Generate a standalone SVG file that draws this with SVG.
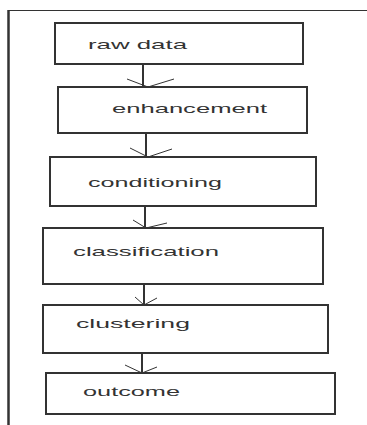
<svg xmlns="http://www.w3.org/2000/svg" width="367" height="425" viewBox="0 0 367 425">
<style>
.box{fill:#fff;stroke:#333;stroke-width:2}
.lbl{font-family:"Liberation Sans",Arial,sans-serif;font-size:13.5px;fill:#333}
.shaft{stroke:#333;stroke-width:2;fill:none}
.head{stroke:#333;stroke-width:1;fill:none}
.frame{stroke:#333;fill:none}
</style>
<rect width="367" height="425" fill="#fff"/>
<g id="frame">
<line class="frame" x1="8" y1="10.5" x2="367" y2="10.5" stroke-width="1.2"/>
<line class="frame" x1="8.5" y1="10" x2="8.5" y2="425" stroke-width="2.5"/>
</g>
<g id="connectors">
<line class="shaft" x1="143" y1="64" x2="143" y2="87"/>
<polyline class="head" points="127,79 148,87 174,79"/>
<line class="shaft" x1="146" y1="133" x2="146" y2="157"/>
<polyline class="head" points="130,148 148,157 172,149"/>
<line class="shaft" x1="145" y1="206" x2="145" y2="228"/>
<polyline class="head" points="133,220 146,228 167,223"/>
<line class="shaft" x1="144" y1="284" x2="144" y2="305"/>
<polyline class="head" points="135,297 144,305 157,298"/>
<line class="shaft" x1="142" y1="353" x2="142" y2="373"/>
<polyline class="head" points="125,365 142,373 157,367"/>
</g>
<g id="raw-data">
<rect class="box" x="55" y="23" width="248" height="41"/>
<text class="lbl" x="88" y="49" textLength="99" lengthAdjust="spacingAndGlyphs">raw data</text>
</g>
<g id="enhancement">
<rect class="box" x="58" y="87" width="249" height="46"/>
<text class="lbl" x="112" y="113" textLength="155" lengthAdjust="spacingAndGlyphs">enhancement</text>
</g>
<g id="conditioning">
<rect class="box" x="50" y="157" width="266" height="49"/>
<text class="lbl" x="88" y="187" textLength="134" lengthAdjust="spacingAndGlyphs">conditioning</text>
</g>
<g id="classification">
<rect class="box" x="43" y="228" width="280" height="56"/>
<text class="lbl" x="73" y="256" textLength="146" lengthAdjust="spacingAndGlyphs">classification</text>
</g>
<g id="clustering">
<rect class="box" x="43" y="305" width="285" height="48"/>
<text class="lbl" x="76" y="328" textLength="114" lengthAdjust="spacingAndGlyphs">clustering</text>
</g>
<g id="outcome">
<rect class="box" x="46" y="373" width="289" height="41"/>
<text class="lbl" x="83" y="396" textLength="97" lengthAdjust="spacingAndGlyphs">outcome</text>
</g>
</svg>
